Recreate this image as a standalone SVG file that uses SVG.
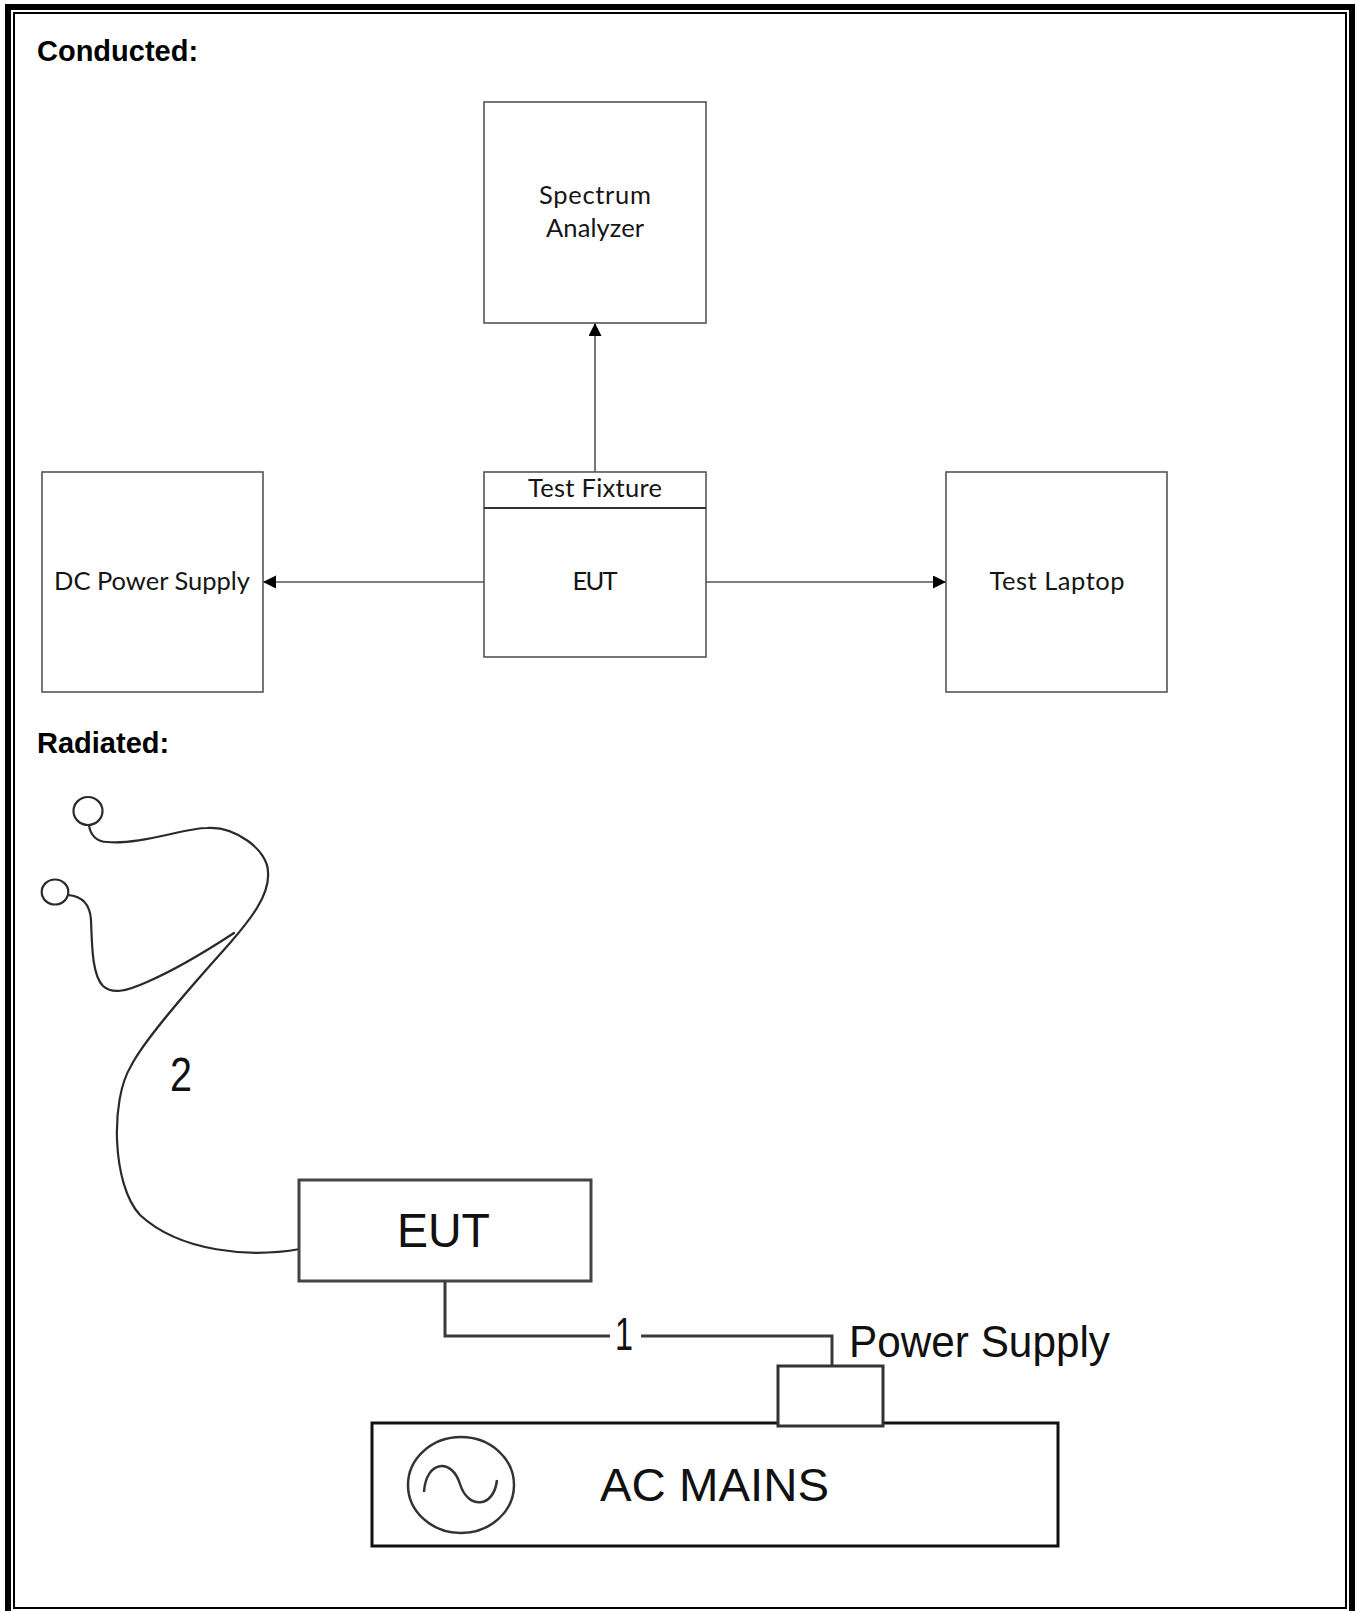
<svg xmlns="http://www.w3.org/2000/svg" width="1359" height="1611" viewBox="0 0 1359 1611">
<style>
.box{fill:#fff;stroke:#555;stroke-width:1.6}
.lbl{font-family:Lato,"Open Sans","Liberation Sans",sans-serif;font-size:25.5px;fill:#151515;text-anchor:middle}
.head{font-family:"Liberation Sans",Arial,sans-serif;font-size:29px;font-weight:bold;fill:#000}
.big{font-family:"Liberation Sans",Arial,sans-serif;fill:#111}
.conn{fill:none;stroke:#555;stroke-width:1.6}
.heavy{fill:none;stroke:#3a3a3a;stroke-width:3}
.cable{fill:none;stroke:#2a2a2a;stroke-width:2.2;stroke-linecap:round}
</style>
<defs>
<marker id="arr" markerUnits="userSpaceOnUse" markerWidth="14" markerHeight="14" refX="13" refY="6.5" orient="auto">
<path d="M0,0 L13,6.5 L0,13 z" fill="#000"/>
</marker>
</defs>
<rect width="1359" height="1611" fill="#fff"/>
<g id="page-border">
<rect x="8" y="7" width="1344" height="1620" fill="none" stroke="#000" stroke-width="6"/>
<rect x="14" y="13" width="1332" height="1595" fill="none" stroke="#000" stroke-width="2"/>
</g>
<text class="head" x="37" y="61">Conducted:</text>
<text class="head" x="37" y="753">Radiated:</text>

<g id="connectors">
<line class="conn" x1="595" y1="472" x2="595" y2="323" marker-end="url(#arr)"/>
<line class="conn" x1="484" y1="582" x2="263" y2="582" marker-end="url(#arr)"/>
<line class="conn" x1="706" y1="582" x2="946" y2="582" marker-end="url(#arr)"/>
<path class="heavy" d="M445 1281 V1336 H610 M641 1336 H832 V1366"/>
<path class="cable" d="M300 1249 C250 1258 180 1252 140 1215 C112 1185 110 1100 131 1066 C146 1036 205 971 230 943 C250 920 270 895 268 872 C268 850 235 826 207 828 C185 828 140 845 107 842 C97 842 90 835 89 825"/>
<path class="cable" d="M68 895 C80 896 90 902 91 920 C92 945 92 975 103 986 C112 994 125 992 147 982 C170 972 205 952 234 933"/>
</g>

<g id="spectrum-analyzer">
<rect class="box" x="484" y="102" width="222" height="221"/>
<text class="lbl" x="595" y="204" textLength="112">Spectrum</text>
<text class="lbl" x="595" y="237" textLength="98">Analyzer</text>
</g>
<g id="dc-power-supply">
<rect class="box" x="42" y="472" width="221" height="220"/>
<text class="lbl" x="152" y="590" textLength="196">DC Power Supply</text>
</g>
<g id="test-fixture">
<rect class="box" x="484" y="472" width="222" height="185"/>
<line x1="484" y1="508" x2="706" y2="508" stroke="#333" stroke-width="2"/>
<text class="lbl" x="595" y="497" textLength="134">Test Fixture</text>
<text class="lbl" x="595" y="590" textLength="45">EUT</text>
</g>
<g id="test-laptop">
<rect class="box" x="946" y="472" width="221" height="220"/>
<text class="lbl" x="1057" y="590" textLength="135">Test Laptop</text>
</g>

<g id="antenna">
<ellipse cx="88" cy="811" rx="14.5" ry="14" fill="none" stroke="#2a2a2a" stroke-width="2.2"/>
<ellipse cx="55" cy="892" rx="13.3" ry="12.5" fill="none" stroke="#2a2a2a" stroke-width="2.2"/>
<text class="big" x="170" y="1091" font-size="49" textLength="22" lengthAdjust="spacingAndGlyphs">2</text>
</g>
<g id="eut-radiated">
<rect x="299" y="1180" width="292" height="101" fill="#fff" stroke="#444" stroke-width="3"/>
<text class="big" x="397" y="1247" font-size="49" textLength="93" lengthAdjust="spacingAndGlyphs">EUT</text>
</g>
<text class="big" x="615" y="1350" font-size="46" textLength="18" lengthAdjust="spacingAndGlyphs">1</text>
<g id="ac-mains">
<rect x="372" y="1423" width="686" height="123" fill="none" stroke="#111" stroke-width="3"/>
<ellipse cx="461" cy="1485" rx="53" ry="48" fill="none" stroke="#333" stroke-width="2.5"/>
<path d="M424 1492 C426 1460 452 1458 460 1484 C468 1510 494 1508 497 1480" fill="none" stroke="#333" stroke-width="2.5"/>
<text class="big" x="600" y="1501" font-size="47" textLength="229" lengthAdjust="spacingAndGlyphs">AC MAINS</text>
</g>
<g id="power-supply">
<rect x="778" y="1366" width="105" height="60" fill="#fff" stroke="#333" stroke-width="3"/>
<text class="big" x="849" y="1357" font-size="44" textLength="261" lengthAdjust="spacingAndGlyphs">Power Supply</text>
</g>
</svg>
